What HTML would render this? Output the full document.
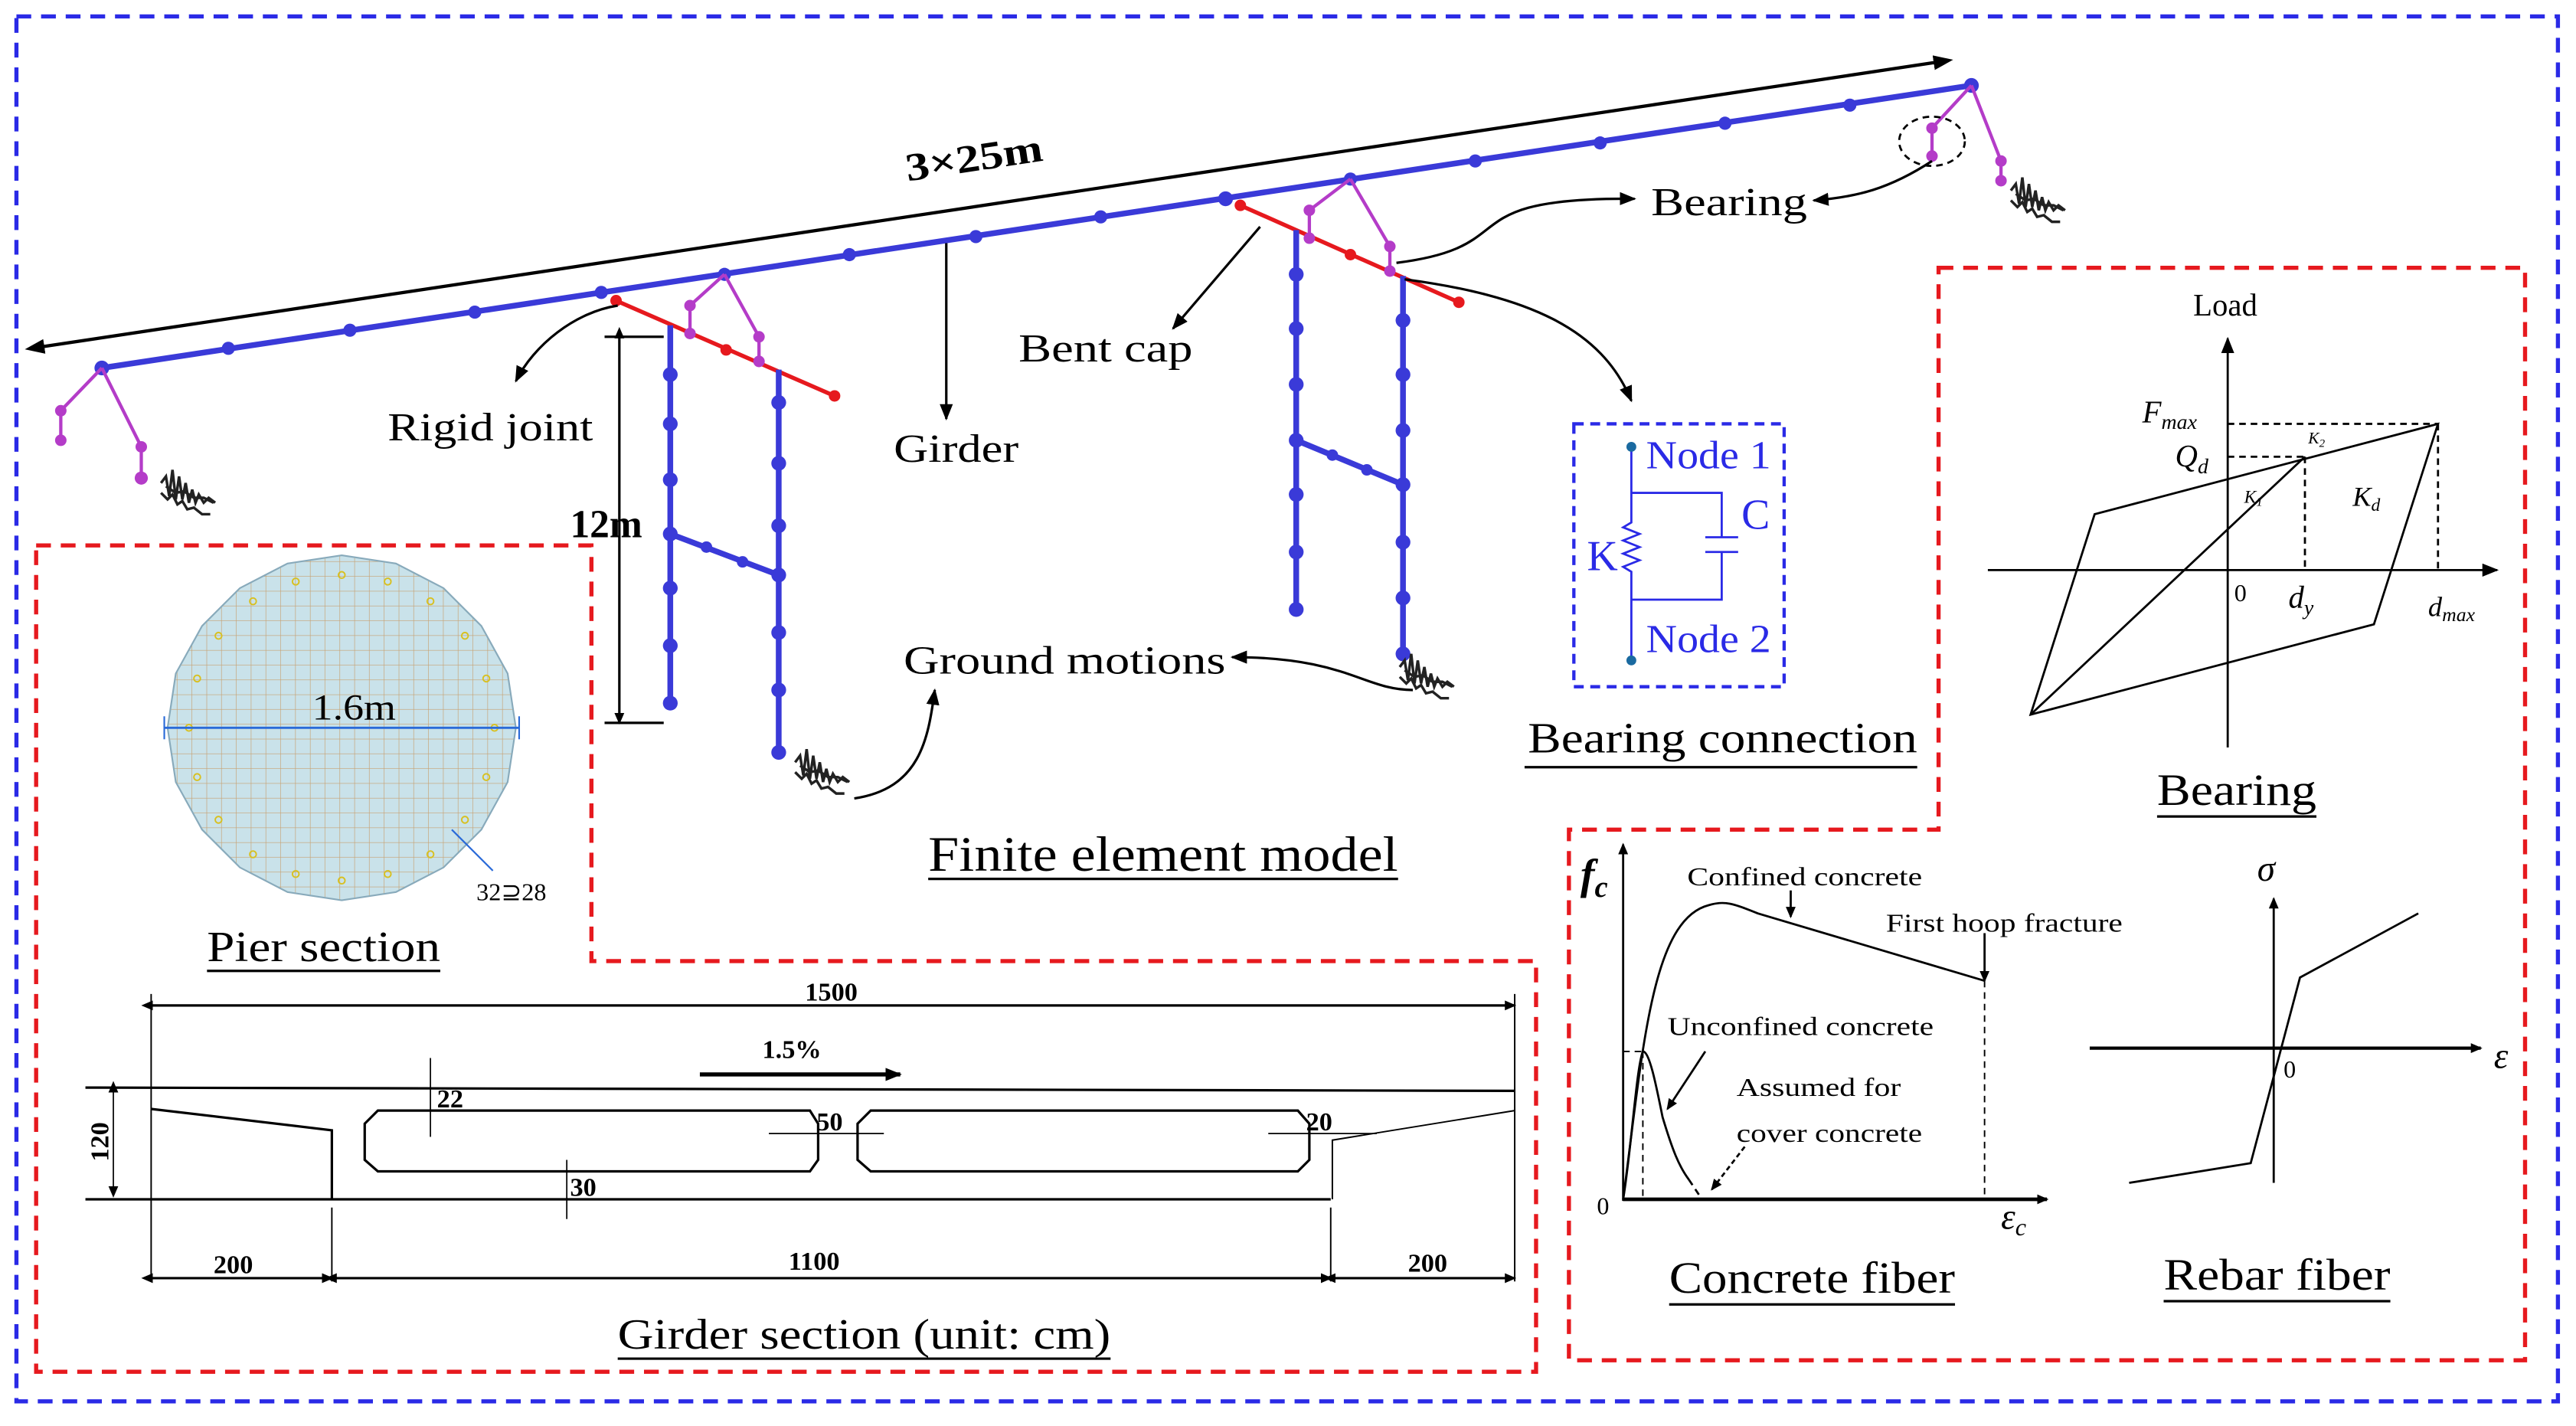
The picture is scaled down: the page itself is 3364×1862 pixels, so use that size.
<!DOCTYPE html>
<html><head><meta charset="utf-8"><style>
html,body{margin:0;padding:0;background:#fff;width:3364px;height:1862px;overflow:hidden}
svg{display:block}
text{font-family:"Liberation Serif",serif;fill:#000}
</style></head><body>
<svg width="3364" height="1862" viewBox="0 0 1568 868" preserveAspectRatio="none" xmlns="http://www.w3.org/2000/svg">
<defs>
<marker id="ah" markerWidth="10" markerHeight="8" refX="9" refY="4" orient="auto" markerUnits="userSpaceOnUse"><path d="M0,0 L10,4 L0,8 Z" fill="#000"/></marker>
<marker id="ahs" markerWidth="7" markerHeight="6" refX="6" refY="3" orient="auto" markerUnits="userSpaceOnUse"><path d="M0,0 L7,3 L0,6 Z" fill="#000"/></marker>
<marker id="as" markerWidth="7" markerHeight="6" refX="1" refY="3" orient="auto-start-reverse" markerUnits="userSpaceOnUse"><path d="M0,0 L7,3 L0,6 Z" fill="#000"/></marker>
<marker id="asb" markerWidth="12" markerHeight="9" refX="1" refY="4.5" orient="auto-start-reverse" markerUnits="userSpaceOnUse"><path d="M0,0 L12,4.5 L0,9 Z" fill="#000"/></marker>
<pattern id="grid" width="9" height="9" patternUnits="userSpaceOnUse"><rect width="9" height="9" fill="#c9e2ea"/><path d="M9 0V9M0 9H9" stroke="#c8a070" stroke-width="0.6"/></pattern>
<g id="gm"><path d="M0,-4 l3,-4 l2,12 l2,-16 l2,18 l2,-14 l2,14 l2,-10 l2,12 l2,-8 l2,8 l2,-5 l3,5 l3,-3 l4,3 M0,2 l4,4 l3,-3 l3,6 l3,-2 l3,5 l4,-1 l5,4 l5,0 M3,-2 l6,4 l5,-1 l6,4 l6,0 l6,3" stroke="#222" stroke-width="1.6" fill="none"/></g>
</defs>
<rect x="10" y="10" width="1547" height="843" fill="none" stroke="#2a2ae6" stroke-width="2.5" stroke-dasharray="9,6"/>
<path d="M22,332 H360 V585 H935 V835 H22 Z" fill="none" stroke="#e6191e" stroke-width="2.5" stroke-dasharray="9,6"/>
<path d="M1180,163 H1537 V828 H955 V505 H1180 Z" fill="none" stroke="#e6191e" stroke-width="2.5" stroke-dasharray="9,6"/>

<line x1="26" y1="211" x2="1178" y2="38" stroke="#000" stroke-width="2" marker-end="url(#asb)" marker-start="url(#asb)"/>
<text x="594" y="104" font-size="24" font-weight="bold" transform="rotate(-8.6 594 104)" text-anchor="middle" textLength="84" lengthAdjust="spacingAndGlyphs">3×25m</text>

<line x1="375" y1="183" x2="508" y2="241" stroke="#e6191e" stroke-width="2.5"/>
<line x1="755" y1="125" x2="888" y2="184" stroke="#e6191e" stroke-width="2.5"/>
<g fill="#e6191e">
<circle cx="375" cy="183" r="3.5"/><circle cx="442" cy="213" r="3.5"/><circle cx="508" cy="241" r="3.5"/>
<circle cx="755" cy="125" r="3.5"/><circle cx="822" cy="155" r="3.5"/><circle cx="888" cy="184" r="3.5"/>
</g>
<g stroke="#3a3ad8" stroke-width="3.5" fill="none">
<line x1="408" y1="198" x2="408" y2="428"/><line x1="474" y1="225" x2="474" y2="458"/>
<line x1="408" y1="325" x2="474" y2="350"/>
<line x1="789" y1="140" x2="789" y2="371"/><line x1="854" y1="168" x2="854" y2="398"/>
<line x1="789" y1="268" x2="854" y2="295"/>
<line x1="62" y1="224" x2="1200" y2="52"/>
</g>
<g fill="#3a3ad8">
<circle cx="408" cy="228" r="4.5"/><circle cx="408" cy="258" r="4.5"/><circle cx="408" cy="292" r="4.5"/><circle cx="408" cy="325" r="4.5"/><circle cx="408" cy="358" r="4.5"/><circle cx="408" cy="393" r="4.5"/><circle cx="408" cy="428" r="4.5"/>
<circle cx="474" cy="245" r="4.5"/><circle cx="474" cy="282" r="4.5"/><circle cx="474" cy="320" r="4.5"/><circle cx="474" cy="350" r="4.5"/><circle cx="474" cy="385" r="4.5"/><circle cx="474" cy="420" r="4.5"/><circle cx="474" cy="458" r="4.5"/>
<circle cx="430" cy="333" r="3.5"/><circle cx="452" cy="342" r="3.5"/>
<circle cx="789" cy="167" r="4.5"/><circle cx="789" cy="200" r="4.5"/><circle cx="789" cy="234" r="4.5"/><circle cx="789" cy="268" r="4.5"/><circle cx="789" cy="301" r="4.5"/><circle cx="789" cy="336" r="4.5"/><circle cx="789" cy="371" r="4.5"/>
<circle cx="854" cy="195" r="4.5"/><circle cx="854" cy="228" r="4.5"/><circle cx="854" cy="262" r="4.5"/><circle cx="854" cy="295" r="4.5"/><circle cx="854" cy="330" r="4.5"/><circle cx="854" cy="364" r="4.5"/><circle cx="854" cy="398" r="4.5"/>
<circle cx="811" cy="277" r="3.5"/><circle cx="832" cy="286" r="3.5"/>
<circle cx="62" cy="224" r="4.5"/><circle cx="139" cy="212" r="4"/><circle cx="213" cy="201" r="4"/><circle cx="289" cy="190" r="4"/><circle cx="366" cy="178" r="4"/><circle cx="441" cy="167" r="4"/><circle cx="517" cy="155" r="4"/><circle cx="594" cy="144" r="4"/><circle cx="670" cy="132" r="4"/><circle cx="746" cy="121" r="4.5"/><circle cx="822" cy="109" r="4"/><circle cx="898" cy="98" r="4"/><circle cx="974" cy="87" r="4"/><circle cx="1050" cy="75" r="4"/><circle cx="1126" cy="64" r="4"/><circle cx="1200" cy="52" r="4.5"/>
</g>
<g stroke="#b43cc8" stroke-width="2" fill="none">
<path d="M62,224 L37,250 L37,268 M62,224 L86,272 L86,291"/>
<path d="M441,167 L420,186 L420,203 M441,167 L462,205 L462,220"/>
<path d="M822,109 L797,128 L797,145 M822,109 L846,150 L846,165"/>
<path d="M1200,52 L1176,78 L1176,95 M1200,52 L1218,98 L1218,110"/>
</g>
<g fill="#b43cc8">
<circle cx="37" cy="250" r="3.5"/><circle cx="37" cy="268" r="3.5"/><circle cx="86" cy="272" r="3.5"/><circle cx="86" cy="291" r="4"/>
<circle cx="420" cy="186" r="3.5"/><circle cx="420" cy="203" r="3.5"/><circle cx="462" cy="205" r="3.5"/><circle cx="462" cy="220" r="3.5"/>
<circle cx="797" cy="128" r="3.5"/><circle cx="797" cy="145" r="3.5"/><circle cx="846" cy="150" r="3.5"/><circle cx="846" cy="165" r="3.5"/>
<circle cx="1176" cy="78" r="3.5"/><circle cx="1176" cy="95" r="3.5"/><circle cx="1218" cy="98" r="3.5"/><circle cx="1218" cy="110" r="3.5"/>
</g>
<ellipse cx="1176" cy="86" rx="20" ry="15" fill="none" stroke="#000" stroke-width="1.3" stroke-dasharray="4,3"/>
<use href="#gm" x="98" y="298"/><use href="#gm" x="484" y="468"/><use href="#gm" x="852" y="410"/><use href="#gm" x="1224" y="120"/>

<g stroke="#000" stroke-width="1.5" fill="none">
<path d="M376,186 C350,190 325,210 314,232" marker-end="url(#ah)"/>
<line x1="576" y1="148" x2="576" y2="255" marker-end="url(#ah)"/>
<line x1="767" y1="138" x2="714" y2="200" marker-end="url(#ah)"/>
<path d="M850,160 C930,150 880,120 995,121" marker-end="url(#ah)"/>
<path d="M1176,98 C1150,115 1130,120 1104,122" marker-end="url(#ah)"/>
<path d="M855,170 C930,180 975,200 993,244" marker-end="url(#ah)"/>
<path d="M860,420 C830,420 820,400 750,400" marker-end="url(#ah)"/>
<path d="M520,486 C560,480 565,450 569,420" marker-end="url(#ah)"/>
<line x1="377" y1="205" x2="377" y2="440" marker-end="url(#ahs)" marker-start="url(#as)"/>
<line x1="368" y1="205" x2="404" y2="205"/><line x1="368" y1="440" x2="404" y2="440"/>
</g>
<g font-size="24">
<text x="236" y="268" textLength="125" lengthAdjust="spacingAndGlyphs">Rigid joint</text>
<text x="544" y="281" textLength="76" lengthAdjust="spacingAndGlyphs">Girder</text>
<text x="620" y="220" textLength="106" lengthAdjust="spacingAndGlyphs">Bent cap</text>
<text x="1005" y="131" textLength="95" lengthAdjust="spacingAndGlyphs">Bearing</text>
<text x="550" y="410" textLength="196" lengthAdjust="spacingAndGlyphs">Ground motions</text>
</g>
<text x="347" y="327" font-size="24" font-weight="bold">12m</text>
<text x="565" y="530" font-size="30" textLength="286" lengthAdjust="spacingAndGlyphs">Finite element model</text>
<line x1="565" y1="535" x2="851" y2="535" stroke="#000" stroke-width="1.5"/>

<rect x="958" y="258" width="128" height="160" fill="none" stroke="#2a2ae6" stroke-width="2" stroke-dasharray="6,4"/>
<g stroke="#2a2ae6" stroke-width="1.3" fill="none">
<path d="M993,272 V300 H1048 V327 M1038,327 H1058 M1038,336 H1058 M1048,336 V365 H993 V400"/>
<path d="M993,300 V318 l-5,3 l10,4 l-10,4 l10,4 l-10,4 l10,4 l-10,4 l5,3 V365"/>
</g>
<circle cx="993" cy="272" r="3" fill="#1a6aa0"/><circle cx="993" cy="402" r="3" fill="#1a6aa0"/>
<text x="1002" y="285" font-size="24" textLength="76" lengthAdjust="spacingAndGlyphs" style="fill:#2a2ae6">Node 1</text>
<text x="1002" y="397" font-size="24" textLength="76" lengthAdjust="spacingAndGlyphs" style="fill:#2a2ae6">Node 2</text>
<text x="1060" y="322" font-size="26" style="fill:#2a2ae6">C</text>
<text x="966" y="347" font-size="26" style="fill:#2a2ae6">K</text>
<text x="930" y="458" font-size="26" textLength="237" lengthAdjust="spacingAndGlyphs">Bearing connection</text>
<line x1="928" y1="467" x2="1167" y2="467" stroke="#000" stroke-width="1.5"/>

<g stroke="#000" stroke-width="1.3" fill="none">
<line x1="1356" y1="455" x2="1356" y2="206" marker-end="url(#ah)"/>
<line x1="1210" y1="347" x2="1520" y2="347" marker-end="url(#ah)"/>
<path d="M1236,435 L1275,313 L1484,258 L1445,380 Z"/>
<path d="M1236,435 L1403,278"/>
<path d="M1356,258 H1484 M1356,278 H1403 M1403,278 V347 M1484,258 V347" stroke-dasharray="4,3"/>
</g>
<text x="1335" y="192" font-size="19">Load</text>
<text x="1304" y="257" font-size="19" font-style="italic">F<tspan font-size="13" dy="4">max</tspan></text>
<text x="1324" y="284" font-size="19" font-style="italic">Q<tspan font-size="13" dy="4">d</tspan></text>
<text x="1405" y="270" font-size="10" font-style="italic">K<tspan dy="2" font-size="7">2</tspan></text>
<text x="1366" y="306" font-size="11" font-style="italic">K<tspan dy="2" font-size="8">1</tspan></text>
<text x="1432" y="308" font-size="17" font-style="italic">K<tspan dy="3" font-size="11">d</tspan></text>
<text x="1360" y="366" font-size="15">0</text>
<text x="1393" y="370" font-size="19" font-style="italic">d<tspan dy="4" font-size="13">y</tspan></text>
<text x="1478" y="375" font-size="17" font-style="italic">d<tspan dy="3" font-size="12">max</tspan></text>
<text x="1313" y="490" font-size="27" textLength="97" lengthAdjust="spacingAndGlyphs">Bearing</text>
<line x1="1313" y1="497" x2="1410" y2="497" stroke="#000" stroke-width="1.5"/>

<g stroke="#000" stroke-width="1.3" fill="none">
<line x1="988" y1="731" x2="988" y2="514" marker-end="url(#ahs)"/>
<line x1="988" y1="730" x2="1246" y2="730" stroke-width="2.2" marker-end="url(#ahs)"/>
<path d="M988,730 C1000,640 1005,560 1040,551 C1050,548 1055,550 1070,556 L1208,597"/>
<path d="M988,730 C993,700 996,650 1000,640 C1004,640 1008,660 1012,680 C1018,700 1022,710 1028,718" />
<path d="M1028,718 L1036,730" stroke-dasharray="4,3"/>
<path d="M988,640 H1000 M1000,640 V730 M1208,597 V730" stroke-dasharray="4,3" stroke-width="0.9"/>
<line x1="1090" y1="542" x2="1090" y2="558" marker-end="url(#ahs)"/>
<line x1="1208" y1="568" x2="1208" y2="597" marker-end="url(#ahs)"/>
<line x1="1038" y1="640" x2="1015" y2="675" marker-end="url(#ahs)"/>
<line x1="1062" y1="698" x2="1042" y2="724" stroke-dasharray="3,2" marker-end="url(#ahs)"/>
</g>
<text x="962" y="541" font-size="26" font-style="italic" font-weight="bold">f<tspan dy="5" font-size="18">c</tspan></text>
<text x="1027" y="539" font-size="16" textLength="143" lengthAdjust="spacingAndGlyphs">Confined concrete</text>
<text x="1148" y="567" font-size="16" textLength="144" lengthAdjust="spacingAndGlyphs">First hoop fracture</text>
<text x="1015" y="630" font-size="16" textLength="162" lengthAdjust="spacingAndGlyphs">Unconfined concrete</text>
<text x="1057" y="667" font-size="16" textLength="100" lengthAdjust="spacingAndGlyphs">Assumed for</text>
<text x="1057" y="695" font-size="16" textLength="113" lengthAdjust="spacingAndGlyphs">cover concrete</text>
<text x="972" y="739" font-size="15">0</text>
<text x="1218" y="748" font-size="22" font-style="italic">ε<tspan dy="4" font-size="15">c</tspan></text>
<text x="1016" y="787" font-size="27" textLength="174" lengthAdjust="spacingAndGlyphs">Concrete fiber</text>
<line x1="1016" y1="794" x2="1190" y2="794" stroke="#000" stroke-width="1.5"/>

<g stroke="#000" stroke-width="1.3" fill="none">
<line x1="1384" y1="720" x2="1384" y2="547" marker-end="url(#ahs)"/>
<line x1="1272" y1="638" x2="1510" y2="638" stroke-width="2" marker-end="url(#ahs)"/>
<path d="M1296,720 L1370,708 L1400,595 L1472,556"/>
</g>
<text x="1374" y="536" font-size="22" font-style="italic">σ</text>
<text x="1390" y="656" font-size="15">0</text>
<text x="1518" y="650" font-size="22" font-style="italic">ε</text>
<text x="1317" y="785" font-size="27" textLength="138" lengthAdjust="spacingAndGlyphs">Rebar fiber</text>
<line x1="1317" y1="792" x2="1455" y2="792" stroke="#000" stroke-width="1.5"/>

<polygon points="208,338 241,343 270,358 293,381 309,410 314,443 309,476 293,505 270,528 241,543 208,548 175,543 146,528 123,505 107,476 102,443 107,410 123,381 146,358 175,343" fill="url(#grid)" stroke="#8ab" stroke-width="1"/>
<g fill="none" stroke="#d8c020" stroke-width="0.9">
<circle cx="208" cy="350" r="2"/><circle cx="236" cy="354" r="2"/><circle cx="262" cy="366" r="2"/><circle cx="283" cy="387" r="2"/><circle cx="296" cy="413" r="2"/><circle cx="301" cy="443" r="2"/><circle cx="296" cy="473" r="2"/><circle cx="283" cy="499" r="2"/><circle cx="262" cy="520" r="2"/><circle cx="236" cy="532" r="2"/><circle cx="208" cy="536" r="2"/><circle cx="180" cy="532" r="2"/><circle cx="154" cy="520" r="2"/><circle cx="133" cy="499" r="2"/><circle cx="120" cy="473" r="2"/><circle cx="115" cy="443" r="2"/><circle cx="120" cy="413" r="2"/><circle cx="133" cy="387" r="2"/><circle cx="154" cy="366" r="2"/><circle cx="180" cy="354" r="2"/>
</g>
<line x1="100" y1="443" x2="316" y2="443" stroke="#2a6ad8" stroke-width="1.3"/>
<line x1="100" y1="436" x2="100" y2="450" stroke="#2a6ad8"/><line x1="316" y1="436" x2="316" y2="450" stroke="#2a6ad8"/>
<text x="190" y="438" font-size="22" textLength="51" lengthAdjust="spacingAndGlyphs">1.6m</text>
<line x1="275" y1="505" x2="300" y2="530" stroke="#2a6ad8"/>
<text x="290" y="548" font-size="15">32⊇28</text>
<text x="126" y="585" font-size="26" textLength="142" lengthAdjust="spacingAndGlyphs">Pier section</text>
<line x1="126" y1="591" x2="268" y2="591" stroke="#000" stroke-width="1.5"/>

<g stroke="#000" stroke-width="1.5" fill="none">
<line x1="92" y1="612" x2="922" y2="612" marker-end="url(#ahs)" marker-start="url(#as)"/>
<line x1="92" y1="605" x2="92" y2="780" stroke-width="0.9"/><line x1="922" y1="605" x2="922" y2="780" stroke-width="0.9"/>
<line x1="52" y1="662" x2="922" y2="664"/>
<line x1="52" y1="730" x2="810" y2="730"/>
<path d="M92,675 L202,688 V730"/>
<path d="M922,676 L811,694 V730" stroke-width="0.9"/>
<path d="M230,676 H493 L498,684 V706 L493,713 H230 L222,706 V684 Z"/>
<path d="M530,676 H790 L797,684 V706 L790,713 H530 L522,706 V684 Z"/>
<line x1="426" y1="654" x2="548" y2="654" stroke-width="2.5" marker-end="url(#ah)"/>
<line x1="69" y1="664" x2="69" y2="728" stroke-width="0.8" marker-end="url(#ahs)" marker-start="url(#as)"/>
<line x1="262" y1="644" x2="262" y2="692" stroke-width="0.8"/>
<line x1="345" y1="706" x2="345" y2="742" stroke-width="0.8"/>
<line x1="468" y1="690" x2="538" y2="690" stroke-width="0.8"/>
<line x1="772" y1="690" x2="838" y2="690" stroke-width="0.8"/>
<line x1="92" y1="778" x2="202" y2="778" marker-end="url(#ahs)" marker-start="url(#as)"/>
<line x1="204" y1="778" x2="810" y2="778" marker-end="url(#ahs)" marker-start="url(#as)"/>
<line x1="812" y1="778" x2="922" y2="778" marker-end="url(#ahs)" marker-start="url(#as)"/>
<line x1="202" y1="735" x2="202" y2="780" stroke-width="0.9"/><line x1="810" y1="735" x2="810" y2="780" stroke-width="0.9"/>
</g>
<g font-size="16" font-weight="bold">
<text x="490" y="609">1500</text>
<text x="464" y="644">1.5%</text>
<text x="266" y="674">22</text>
<text x="347" y="728">30</text>
<text x="497" y="688">50</text>
<text x="795" y="688">20</text>
<text x="130" y="775">200</text>
<text x="480" y="773">1100</text>
<text x="857" y="774">200</text>
<text x="66" y="707" transform="rotate(-90 66 707)">120</text>
</g>
<text x="376" y="821" font-size="26" textLength="300" lengthAdjust="spacingAndGlyphs">Girder section (unit: cm)</text>
<line x1="376" y1="827" x2="676" y2="827" stroke="#000" stroke-width="1.5"/>
</svg>
</body></html>
